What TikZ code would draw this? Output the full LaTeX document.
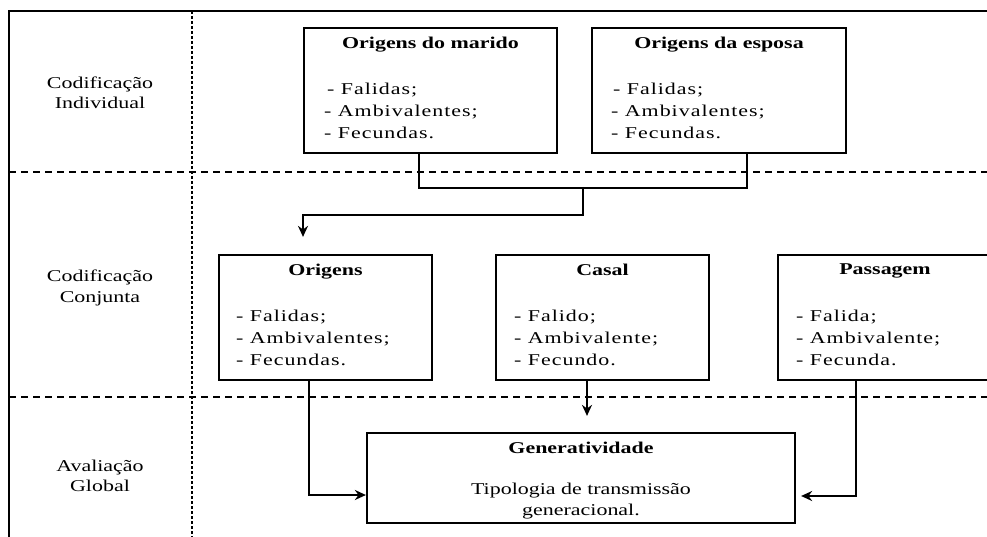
\documentclass[tikz,border=0pt]{standalone}
\usepackage{fontspec}
\setmainfont{Liberation Serif}[FakeStretch=1.33]
\newfontfamily\itemfont{Liberation Serif}[FakeStretch=1.33, LetterSpace=6]
\usetikzlibrary{positioning}
\usetikzlibrary{arrows.meta}

\tikzset{
  box/.style={draw, line width=2.2pt, minimum height=125pt, inner sep=0pt},
  boxtitle/.style={font=\fontsize{16.5}{22}\selectfont\bfseries, inner sep=0pt},
  items/.style={font=\itemfont\fontsize{16.5}{22}\selectfont, align=left, inner sep=0pt},
  rowlabel/.style={font=\fontsize{16.5}{20.5}\selectfont, align=center, inner sep=0pt},
  link/.style={line width=1.8pt},
  arr/.style={link, -{Stealth[length=11pt,width=10pt]}},
  rowsep/.style={line width=1.5pt, dash pattern=on 7pt off 5pt},
}

\begin{document}
\begin{tikzpicture}[x=1pt,y=1pt,yscale=-1]
\clip (0,0) rectangle (987,537);

%frame and row separators
\draw [line width=1.2pt] (9,537) -- (9,11) -- (987,11) ;
\draw [rowsep] (9,172) -- (987,172) ;
\draw [rowsep] (9,397) -- (987,397) ;
\draw [line width=2pt, dash pattern=on 3pt off 2pt] (192,11) -- (192,537) ;

%row labels
\node [rowlabel] (indiv) at (100,93) {Codificação\\Individual};
\node [rowlabel] (conj) at (100,288) {Codificação\\Conjunta};
\node [rowlabel] (glob) at (100,476) {Avaliação\\Global};

%Codificacao individual
\node [box, minimum width=253pt] (marido) at (430.5,90.5) {};
\node [boxtitle, below=9.5pt of marido.north] (maridot) {Origens do marido};
\node [items, below right=56pt and 21pt of marido.north west] (maridoi) {\hspace{3pt}- Falidas;\\- Ambivalentes;\\- Fecundas.};

\node [box, minimum width=254pt] (esposa) at (719,90.5) {};
\node [boxtitle, below=9.5pt of esposa.north] (esposat) {Origens da esposa};
\node [items, below right=56pt and 20pt of esposa.north west] (esposai) {\hspace{2pt}- Falidas;\\- Ambivalentes;\\- Fecundas.};

%Codificacao conjunta
\node [box, minimum width=213pt] (origens) at (325.5,317.5) {};
\node [boxtitle, below=9.5pt of origens.north] (origenst) {Origens};
\node [items, below right=56pt and 18pt of origens.north west] (origensi) {- Falidas;\\- Ambivalentes;\\- Fecundas.};

\node [box, minimum width=213pt] (casal) at (602.5,317.5) {};
\node [boxtitle, below=9.5pt of casal.north] (casalt) {Casal};
\node [items, below right=56pt and 19pt of casal.north west] (casali) {- Falido;\\- Ambivalente;\\- Fecundo.};

\node [box, minimum width=214pt] (passagem) at (885,317.5) {};
\node [boxtitle, below=9.5pt of passagem.north] (passagemt) {Passagem};
\node [items, below right=56pt and 19pt of passagem.north west] (passagemi) {- Falida;\\- Ambivalente;\\- Fecunda.};

%Avaliacao global
\node [box, minimum width=428pt, minimum height=90pt] (gen) at (581,478) {};
\node [boxtitle, below=9.5pt of gen.north] (gent) {Generatividade};
\node [items, font=\fontsize{16.5}{21}\selectfont, align=center, below=51pt of gen.north] (geni) {Tipologia de transmissão\\generacional.};

%connectors
\draw [link] ([xshift=-11.5pt]marido.south) -- ++(0,34) -| ([xshift=28pt]esposa.south) ;
\coordinate (join) at (583,187);
\draw [arr, shorten >=17pt] (join) -- ++(0,28) -| ([xshift=-22.5pt]origens.north) ;
\draw [arr] ([xshift=-16.5pt]origens.south) |- ([yshift=17pt]gen.west) ;
\draw [arr, shorten >=16pt] ([xshift=-15.5pt]casal.south) -- ([xshift=-15.5pt]casal.south |- gen.north) ;
\draw [arr, shorten >=5pt] ([xshift=-29pt]passagem.south) |- ([yshift=18pt]gen.east) ;

\end{tikzpicture}
\end{document}
